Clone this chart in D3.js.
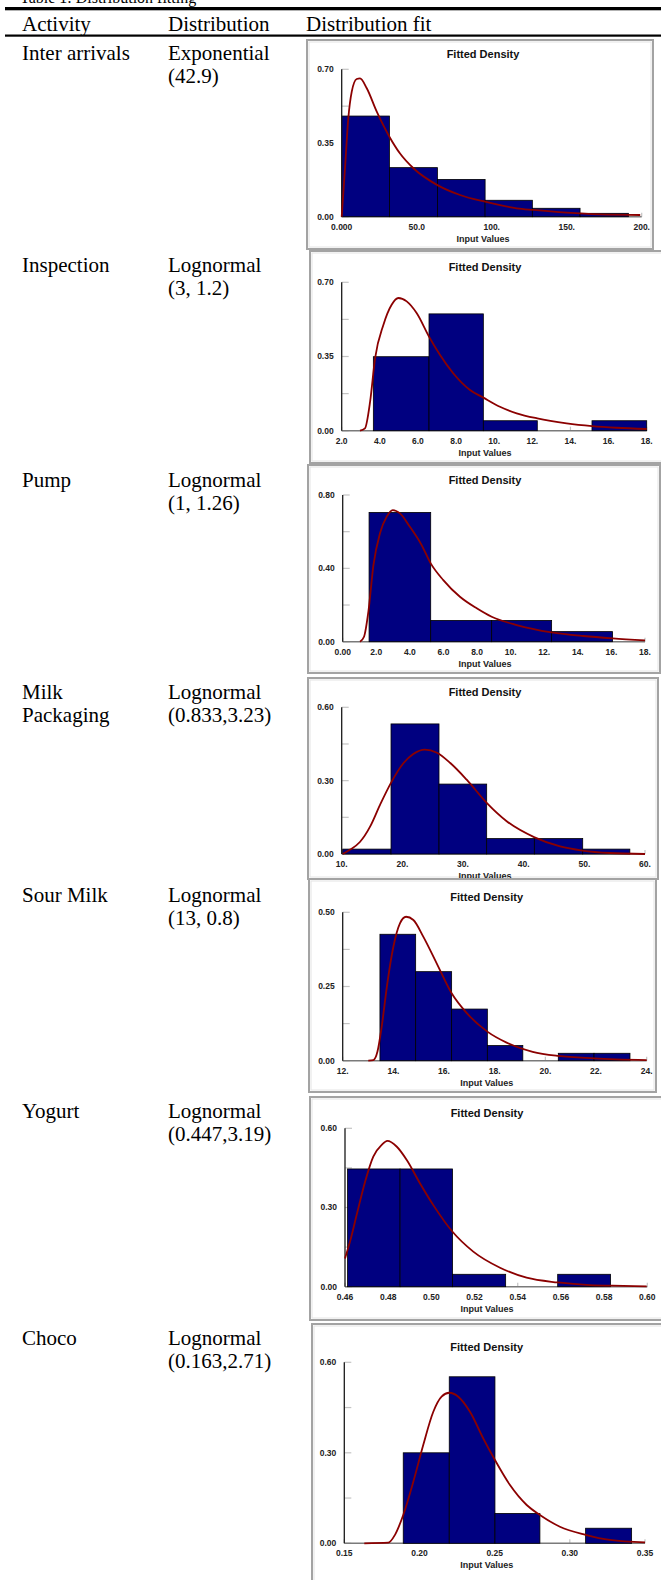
<!DOCTYPE html>
<html>
<head>
<meta charset="utf-8">
<script src="https://cdn.jsdelivr.net/npm/d3@7"></script>
<style>
  html, body { margin: 0; padding: 0; background: #fff; }
  svg { display: block; }
</style>
</head>
<body>
<div id="table"></div>
<script>
// ---------------------------------------------------------------------------
// Table text
// ---------------------------------------------------------------------------
const tableTitle = "Table 1: Distribution fitting";
const headers = ["Activity", "Distribution", "Distribution fit"];
const activities = [["Inter arrivals"], ["Inspection"], ["Pump"], ["Milk", "Packaging"],
                    ["Sour Milk"], ["Yogurt"], ["Choco"]];
const distributions = [["Exponential", "(42.9)"], ["Lognormal", "(3, 1.2)"], ["Lognormal", "(1, 1.26)"],
                       ["Lognormal", "(0.833,3.23)"], ["Lognormal", "(13, 0.8)"],
                       ["Lognormal", "(0.447,3.19)"], ["Lognormal", "(0.163,2.71)"]];

// ---------------------------------------------------------------------------
// Histograms: [from, to, density]   Fitted curves: [x, density]
// ---------------------------------------------------------------------------
const bins1 = [[0, 31.8, 0.478], [31.8, 63.8, 0.233], [63.8, 95.6, 0.177], [95.6, 127.1, 0.078],
               [127.1, 158.9, 0.040], [158.9, 191.1, 0.016]];
const fit1 = [[0, 0], [2.2, 0.23], [4.4, 0.467], [6.7, 0.594], [10, 0.654], [12.2, 0.657], [16.7, 0.61],
              [23.3, 0.5], [31.8, 0.38], [38.9, 0.30], [47.8, 0.23], [63.8, 0.15], [78.9, 0.103],
              [95.6, 0.071], [116.7, 0.04], [127.8, 0.032], [150, 0.019], [172, 0.011], [199, 0.008]];

const bins2 = [[3.66, 6.58, 0.349], [6.58, 9.43, 0.551], [9.43, 12.26, 0.047], [15.13, 18.0, 0.047]];
const fit2 = [[2.96, 0], [3.22, 0.011], [3.49, 0.137], [3.75, 0.341], [4.19, 0.5], [4.62, 0.594],
              [4.97, 0.626], [5.41, 0.61], [5.93, 0.555], [6.58, 0.444], [7.16, 0.357], [7.86, 0.27],
              [8.73, 0.192], [9.43, 0.156], [10.3, 0.113], [11.18, 0.082], [12.26, 0.058], [13.8, 0.035],
              [15.13, 0.022], [16.4, 0.014], [18, 0.008]];

const bins3 = [[1.57, 5.24, 0.705], [5.24, 8.87, 0.116], [8.87, 12.44, 0.116], [12.44, 16.07, 0.055]];
const fit3 = [[1.03, 0], [1.27, 0.027], [1.53, 0.164], [1.83, 0.418], [2.22, 0.591], [2.62, 0.682],
              [2.98, 0.718], [3.41, 0.70], [4.0, 0.627], [4.7, 0.527], [5.24, 0.427], [5.99, 0.336],
              [6.98, 0.245], [7.98, 0.182], [8.87, 0.136], [10.36, 0.091], [12.44, 0.051], [14.33, 0.031],
              [16.07, 0.018], [18, 0.007]];

const bins4 = [[10.16, 18.13, 0.020], [18.13, 26.04, 0.532], [26.04, 33.9, 0.286], [33.9, 41.76, 0.063],
               [41.76, 49.73, 0.063], [49.73, 57.5, 0.020]];
const fit4 = [[10.16, 0], [11.4, 0.018], [13.0, 0.049], [14.7, 0.113], [16.3, 0.2], [18.1, 0.29],
              [20.2, 0.372], [21.8, 0.409], [23.7, 0.427], [25.7, 0.414], [27.9, 0.372], [30.6, 0.304],
              [33.9, 0.209], [37.2, 0.134], [41.8, 0.068], [46, 0.031], [49.7, 0.014], [54.2, 0.004],
              [60, 0]];

const bins5 = [[13.47, 14.88, 0.426], [14.88, 16.30, 0.300], [16.30, 17.71, 0.174], [17.71, 19.11, 0.051],
               [20.51, 21.92, 0.025], [21.92, 23.34, 0.025]];
const fit5 = [[13.01, 0], [13.21, 0.002], [13.37, 0.03], [13.54, 0.115], [13.76, 0.26], [14.0, 0.384],
              [14.26, 0.463], [14.5, 0.485], [14.79, 0.474], [15.18, 0.418], [15.71, 0.328], [16.3, 0.227],
              [16.9, 0.16], [17.71, 0.098], [18.47, 0.061], [19.5, 0.03], [20.51, 0.016], [21.92, 0.008],
              [24, 0.002]];

const bins6 = [[0.4612, 0.4855, 0.446], [0.4855, 0.5098, 0.446], [0.5098, 0.5344, 0.047],
               [0.5585, 0.5830, 0.047]];
const fit6 = [[0.46, 0.107], [0.4623, 0.17], [0.4654, 0.272], [0.4693, 0.398], [0.4731, 0.493],
              [0.477, 0.537], [0.4796, 0.552], [0.4839, 0.531], [0.4886, 0.48], [0.4947, 0.392],
              [0.5009, 0.309], [0.5098, 0.208], [0.5194, 0.133], [0.5318, 0.072], [0.5441, 0.034],
              [0.5585, 0.016], [0.5734, 0.006], [0.5889, 0.003], [0.5997, 0.001]];

const bins7 = [[0.1892, 0.2198, 0.300], [0.2198, 0.2502, 0.552], [0.2502, 0.2801, 0.099],
               [0.3105, 0.3411, 0.050]];
const fit7 = [[0.1633, 0], [0.1793, 0.002], [0.1837, 0.028], [0.1892, 0.094], [0.1959, 0.204],
              [0.2025, 0.326], [0.2092, 0.436], [0.2147, 0.486], [0.2198, 0.499], [0.2258, 0.486],
              [0.2336, 0.436], [0.2424, 0.348], [0.2502, 0.276], [0.2602, 0.193], [0.2713, 0.127],
              [0.2801, 0.094], [0.2934, 0.055], [0.3105, 0.028], [0.3267, 0.011], [0.35, 0.003]];

// ---------------------------------------------------------------------------
// Axes
// ---------------------------------------------------------------------------
const xDomains = [[0, 200], [2, 18], [0, 18], [10, 60], [12, 24], [0.46, 0.60], [0.15, 0.35]];
const xTicks1 = [0, 50, 100, 150, 200];
const xLabels1 = ["0.000", "50.0", "100.", "150.", "200."];
const xTicks2 = [2, 4, 6, 8, 10, 12, 14, 16, 18];
const xLabels2 = ["2.0", "4.0", "6.0", "8.0", "10.", "12.", "14.", "16.", "18."];
const xTicks3 = [0, 2, 4, 6, 8, 10, 12, 14, 16, 18];
const xLabels3 = ["0.00", "2.0", "4.0", "6.0", "8.0", "10.", "12.", "14.", "16.", "18."];
const xTicks4 = [10, 20, 30, 40, 50, 60];
const xLabels4 = ["10.", "20.", "30.", "40.", "50.", "60."];
const xTicks5 = [12, 14, 16, 18, 20, 22, 24];
const xLabels5 = ["12.", "14.", "16.", "18.", "20.", "22.", "24."];
const xTicks6 = [0.46, 0.48, 0.50, 0.52, 0.54, 0.56, 0.58, 0.60];
const xLabels6 = ["0.46", "0.48", "0.50", "0.52", "0.54", "0.56", "0.58", "0.60"];
const xTicks7 = [0.15, 0.20, 0.25, 0.30, 0.35];
const xLabels7 = ["0.15", "0.20", "0.25", "0.30", "0.35"];

const yMaxes = [0.70, 0.70, 0.80, 0.60, 0.50, 0.60, 0.60];
const yLabels = [["0.00", "0.35", "0.70"], ["0.00", "0.35", "0.70"], ["0.00", "0.40", "0.80"],
                 ["0.00", "0.30", "0.60"], ["0.00", "0.25", "0.50"], ["0.00", "0.30", "0.60"],
                 ["0.00", "0.30", "0.60"]];

// ---------------------------------------------------------------------------
// Layout (page pixels)
// ---------------------------------------------------------------------------
const W = 661, H = 1580;
const colX = [22, 168, 306];
const rowBaselines = [60, 272, 487, 699, 902, 1118, 1345];
const lineStep = 23;

// frame: [x, y, w, h]; plot: [left, right, top, bottom]; tx: title centre
const panels = [
  { frame: [307, 40, 346, 209],  plot: [341.7, 641.7, 69.3, 216.7],   tx: 483 },
  { frame: [310, 251, 360, 212], plot: [341.7, 646.7, 282.3, 430.7],  tx: 485 },
  { frame: [308, 465, 352, 208], plot: [342.7, 645, 495, 641.7],      tx: 485 },
  { frame: [308, 678, 350, 201], plot: [341.7, 645, 707.3, 854],      tx: 485 },
  { frame: [309, 879, 347, 213], plot: [342.7, 646.7, 912.3, 1060.7], tx: 486.7 },
  { frame: [310, 1097, 360, 223], plot: [345, 647.3, 1128.3, 1286.7], tx: 487 },
  { frame: [312, 1324, 360, 270], plot: [344.3, 645, 1362.3, 1543.3], tx: 486.7 },
];

const charts = [
  { bins: bins1, fit: fit1, xt: xTicks1, xl: xLabels1 },
  { bins: bins2, fit: fit2, xt: xTicks2, xl: xLabels2 },
  { bins: bins3, fit: fit3, xt: xTicks3, xl: xLabels3 },
  { bins: bins4, fit: fit4, xt: xTicks4, xl: xLabels4 },
  { bins: bins5, fit: fit5, xt: xTicks5, xl: xLabels5 },
  { bins: bins6, fit: fit6, xt: xTicks6, xl: xLabels6 },
  { bins: bins7, fit: fit7, xt: xTicks7, xl: xLabels7 },
];

const serif = "'Liberation Serif', 'Times New Roman', serif";
const sans = "'Liberation Sans', Arial, sans-serif";

const svg = d3.select("#table").append("svg")
  .attr("width", W).attr("height", H)
  .attr("viewBox", [0, 0, W, H]);

svg.append("rect").attr("width", W).attr("height", H).attr("fill", "#fff");

// title (mostly cut off at the top edge, as in the source page)
svg.append("text").attr("x", 20).attr("y", 3)
  .attr("font-family", serif).attr("font-size", 16).attr("fill", "#000")
  .text(tableTitle);

// rules
svg.append("rect").attr("x", 5).attr("y", 7).attr("width", W - 5).attr("height", 3.3).attr("fill", "#000");
svg.append("rect").attr("x", 5).attr("y", 34.5).attr("width", W - 5).attr("height", 2.2).attr("fill", "#000");

// header
svg.append("g").selectAll("text").data(headers).join("text")
  .attr("x", (d, i) => colX[i]).attr("y", 31)
  .attr("font-family", serif).attr("font-size", 21).attr("fill", "#000")
  .text((d) => d);

// left columns
[activities, distributions].forEach((col, ci) => {
  col.forEach((lines, ri) => {
    svg.append("g").selectAll("text").data(lines).join("text")
      .attr("x", colX[ci]).attr("y", (d, li) => rowBaselines[ri] + li * lineStep)
      .attr("font-family", serif).attr("font-size", 21).attr("fill", "#000")
      .text((d) => d);
  });
});

// charts
charts.forEach((c, i) => {
  const p = panels[i];
  const [left, right, top, bottom] = p.plot;
  const g = svg.append("g");

  g.append("rect")
    .attr("x", p.frame[0]).attr("y", p.frame[1]).attr("width", p.frame[2]).attr("height", p.frame[3])
    .attr("fill", "#fff").attr("stroke", "#a3a3a3").attr("stroke-width", 2);
  g.append("rect")
    .attr("x", p.frame[0] + 2).attr("y", p.frame[1] + 2).attr("width", p.frame[2] - 4).attr("height", p.frame[3] - 4)
    .attr("fill", "none").attr("stroke", "#e4e4e4").attr("stroke-width", 1);

  const x = d3.scaleLinear().domain(xDomains[i]).range([left, right]);
  const y = d3.scaleLinear().domain([0, yMaxes[i]]).range([bottom, top]);

  g.append("text").attr("x", p.tx).attr("y", top - 11)
    .attr("text-anchor", "middle").attr("font-family", sans).attr("font-weight", "bold")
    .attr("font-size", 11).attr("fill", "#111").text("Fitted Density");

  // y ticks (inside) + labels
  const yTickVals = d3.range(5).map((k) => yMaxes[i] * k / 4);
  g.append("g").selectAll("line").data(yTickVals).join("line")
    .attr("x1", left).attr("x2", left + 7)
    .attr("y1", (d) => y(d)).attr("y2", (d) => y(d))
    .attr("stroke", "#c4c4c4").attr("stroke-width", 1.2);
  g.append("g").selectAll("text").data(yLabels[i]).join("text")
    .attr("x", left - 8).attr("y", (d, k) => y(yMaxes[i] * k / 2)).attr("dy", "0.35em")
    .attr("text-anchor", "end").attr("font-family", sans).attr("font-weight", "bold")
    .attr("font-size", 8.5).attr("fill", "#222").text((d) => d);

  // x ticks + labels
  g.append("g").selectAll("line").data(c.xt).join("line")
    .attr("x1", (d) => x(d)).attr("x2", (d) => x(d))
    .attr("y1", bottom).attr("y2", bottom - 4)
    .attr("stroke", "#c4c4c4").attr("stroke-width", 1.2);
  g.append("g").selectAll("text").data(c.xt).join("text")
    .attr("x", (d) => x(d)).attr("y", bottom + 13)
    .attr("text-anchor", "middle").attr("font-family", sans).attr("font-weight", "bold")
    .attr("font-size", 8.5).attr("fill", "#222").text((d, k) => c.xl[k]);

  g.append("text").attr("x", p.tx).attr("y", bottom + 25)
    .attr("text-anchor", "middle").attr("font-family", sans).attr("font-weight", "bold")
    .attr("font-size", 9).attr("fill", "#222").text("Input Values");

  // x axis line
  g.append("line").attr("x1", left).attr("x2", right).attr("y1", bottom).attr("y2", bottom)
    .attr("stroke", "#7a7a7a").attr("stroke-width", 1.5);

  // histogram bars
  g.append("g").selectAll("rect").data(c.bins).join("rect")
    .attr("x", (d) => x(d[0])).attr("width", (d) => x(d[1]) - x(d[0]))
    .attr("y", (d) => y(d[2])).attr("height", (d) => y(0) - y(d[2]))
    .attr("fill", "#000080").attr("stroke", "#000").attr("stroke-width", 0.8);

  // y axis line
  g.append("line").attr("x1", left).attr("x2", left).attr("y1", top).attr("y2", bottom)
    .attr("stroke", "#1a1a1a").attr("stroke-width", 1.3);

  // fitted density
  const line = d3.line().x((d) => x(d[0])).y((d) => y(d[1])).curve(d3.curveMonotoneX);
  g.append("path").datum(c.fit).attr("d", line)
    .attr("fill", "none").attr("stroke", "#8b0000").attr("stroke-width", 1.8);
});
</script>
</body>
</html>
